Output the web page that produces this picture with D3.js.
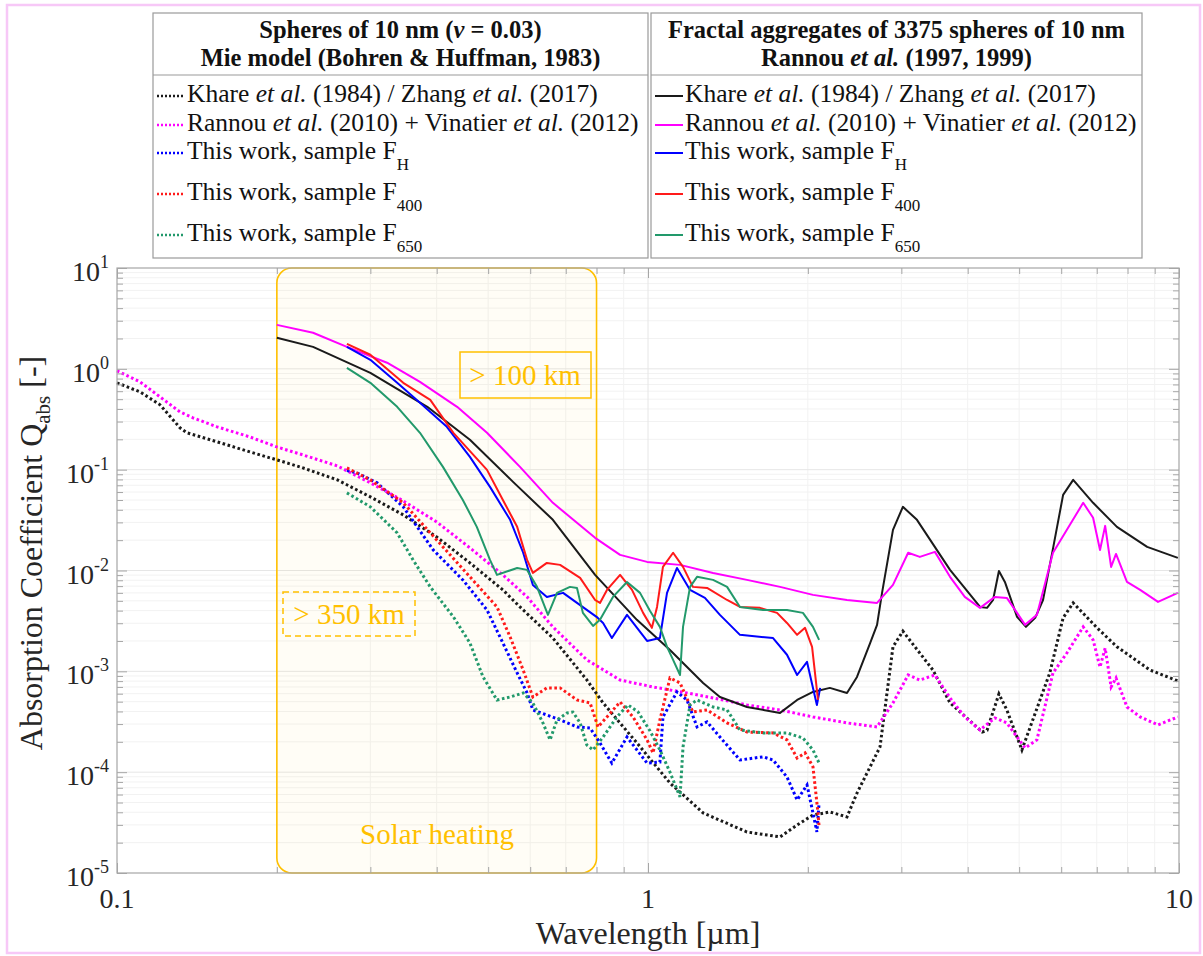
<!DOCTYPE html>
<html>
<head>
<meta charset="utf-8">
<script src="https://cdn.jsdelivr.net/npm/d3@7"></script>
<style>
  body { margin: 0; background: #fff; }
  svg { font-family: "Liberation Serif", "Times New Roman", serif; }
  .tick text { display: none; }
  .domain { display: none; }
</style>
</head>
<body>
<svg width="1203" height="956"></svg>
<script>
// wavelength [um], Q_abs  -- Mie spheres (dotted)
const khareMie = [[0.1,0.726],[0.1105,0.591],[0.1205,0.44],[0.1314,0.26],[0.1354,0.232],[0.1543,0.189],[0.178,0.150],[0.2,0.125],[0.221,0.1066],[0.26,0.0792],[0.3,0.0537],[0.346,0.0356],[0.4,0.0215],[0.462,0.0119],[0.533,0.00642],[0.574,0.00435],[0.662,0.00214],[0.767,0.000822],[0.823,0.000486],[0.953,0.000195],[1.1,7.8e-5],[1.27,3.94e-5],[1.536,2.55e-5],[1.773,2.28e-5],[1.909,2.99e-5],[2.045,3.76e-5],[2.2,4.03e-5],[2.37,3.6e-5],[2.475,6.2e-5],[2.62,1.13e-4],[2.735,1.78e-4],[2.893,1.75e-3],[3.02,2.5e-3],[3.44,1.03e-3],[3.705,4.86e-4],[4.26,2.5e-4],[4.35,2.6e-4],[4.58,5.97e-4],[4.74,4.14e-4],[5.06,1.66e-4],[5.71,9.64e-4],[6.05,3.39e-3],[6.32,4.77e-3],[7.01,2.7e-3],[7.64,1.75e-3],[8.82,1.03e-3],[9.95,8.03e-4]]
const rannouMie = [[0.1,0.955],[0.1105,0.743],[0.1205,0.527],[0.1314,0.374],[0.139,0.327],[0.1543,0.266],[0.178,0.211],[0.2,0.168],[0.224,0.140],[0.26,0.109],[0.3,0.074],[0.346,0.049],[0.4,0.0303],[0.462,0.01676],[0.533,0.00904],[0.592,0.00547],[0.662,0.00276],[0.767,0.0013],[0.886,8.2e-4],[1.022,7.0e-4],[1.184,6.1e-4],[1.326,5.45e-4],[1.536,4.64e-4],[1.773,4.14e-4],[2.045,3.53e-4],[2.37,3.08e-4],[2.70,2.81e-4],[2.893,4.86e-4],[3.09,9.2e-4],[3.25,8.2e-4],[3.47,9.2e-4],[3.705,5.45e-4],[3.95,3.53e-4],[4.22,2.62e-4],[4.50,3.45e-4],[4.74,3.08e-4],[4.955,2.23e-4],[5.13,1.74e-4],[5.40,2.09e-4],[5.79,9.64e-4],[6.15,1.52e-3],[6.60,2.76e-3],[6.89,2.05e-3],[7.10,1.1e-3],[7.26,1.7e-3],[7.45,7.0e-4],[7.61,8.6e-4],[7.98,4.43e-4],[8.45,3.53e-4],[9.13,2.94e-4],[9.95,3.53e-4]]
const fhMie = [[0.271,0.098],[0.283,0.0929],[0.309,0.074],[0.346,0.0428],[0.394,0.016],[0.448,0.00807],[0.4975,0.00406],[0.533,0.00191],[0.567,9.64e-4],[0.592,6.1e-4],[0.607,4.14e-4],[0.645,3.69e-4],[0.683,3.3e-4],[0.735,2.81e-4],[0.778,2.74e-4],[0.812,1.95e-4],[0.855,1.23e-4],[0.913,2.23e-4],[0.996,1.23e-4],[1.053,1.26e-4],[1.067,3.53e-4],[1.134,6.25e-4],[1.184,5.2e-4],[1.237,2.81e-4],[1.292,3.15e-4],[1.366,2.23e-4],[1.49,1.32e-4],[1.647,1.42e-4],[1.72,1.32e-4],[1.827,8.95e-5],[1.909,5.3e-5],[1.993,7.46e-5],[2.045,3.94e-5],[2.08,2.55e-5],[2.10,4.94e-5]]
const f400Mie = [[0.271,0.104],[0.3,0.0792],[0.346,0.0469],[0.4,0.0201],[0.462,0.00865],[0.5195,0.00435],[0.55,0.00219],[0.582,0.00103],[0.607,5.57e-4],[0.645,6.85e-4],[0.683,6.85e-4],[0.735,5.2e-4],[0.778,4.86e-4],[0.805,2.81e-4],[0.837,3.53e-4],[0.886,4.97e-4],[0.937,3.53e-4],[0.996,2.09e-4],[1.022,1.55e-4],[1.053,3.3e-4],[1.1,8.6e-4],[1.149,7.67e-4],[1.215,3.95e-4],[1.292,4.14e-4],[1.409,3.08e-4],[1.536,2.5e-4],[1.72,2.45e-4],[1.827,2.09e-4],[1.909,1.38e-4],[1.976,1.55e-4],[2.045,1.13e-4],[2.09,3.94e-5],[2.10,2.86e-5]]
const f650Mie = [[0.271,0.0589],[0.3,0.0428],[0.337,0.0236],[0.361,0.01274],[0.389,0.00688],[0.43,0.00347],[0.462,0.00191],[0.489,8.8e-4],[0.5195,5.2e-4],[0.55,5.57e-4],[0.582,6.1e-4],[0.607,4.86e-4],[0.634,3.08e-4],[0.654,2.09e-4],[0.674,3.3e-4],[0.704,3.87e-4],[0.722,3.95e-4],[0.745,3.08e-4],[0.767,1.86e-4],[0.788,1.66e-4],[0.823,2.23e-4],[0.874,3.53e-4],[0.917,4.64e-4],[0.958,3.95e-4],[1.009,2.56e-4],[1.053,1.66e-4],[1.1,1.0e-4],[1.149,5.68e-5],[1.164,1.78e-4],[1.2,4.64e-4],[1.237,5.2e-4],[1.326,4.43e-4],[1.409,4.14e-4],[1.49,2.62e-4],[1.647,2.45e-4],[1.827,2.45e-4],[1.958,2.18e-4],[2.045,1.66e-4],[2.10,1.23e-4]]

// fractal aggregates (solid)
const khareFrac = [[0.2,2.03],[0.234,1.65],[0.3,0.913],[0.384,0.42],[0.462,0.198],[0.557,0.0757],[0.662,0.0318],[0.795,0.00904],[0.953,0.00324],[1.1,0.00163],[1.27,7.67e-4],[1.366,5.57e-4],[1.536,4.43e-4],[1.773,3.87e-4],[1.909,5.2e-4],[2.045,6.25e-4],[2.2,6.85e-4],[2.37,6.1e-4],[2.475,8.8e-4],[2.62,1.9e-3],[2.70,2.89e-3],[2.759,6.0e-3],[2.893,0.0253],[3.02,0.0428],[3.21,0.0318],[3.705,0.01014],[4.22,4.35e-3],[4.35,4.26e-3],[4.465,5.1e-3],[4.58,9.9e-3],[4.70,7.7e-3],[4.955,3.47e-3],[5.15,2.76e-3],[5.36,3.39e-3],[5.545,5.1e-3],[5.77,0.01496],[6.05,0.0562],[6.32,0.0792],[6.89,0.0469],[7.64,0.0271],[8.71,0.01714],[9.95,0.01333]]
const rannouFrac = [[0.2,2.73],[0.234,2.28],[0.271,1.65],[0.3225,1.15],[0.372,0.743],[0.437,0.42],[0.4975,0.232],[0.574,0.1066],[0.662,0.0469],[0.795,0.0211],[0.886,0.01428],[0.996,0.01217],[1.149,0.01137],[1.326,0.00946],[1.536,0.00807],[1.773,0.00688],[2.045,0.00573],[2.37,0.0051],[2.70,0.00477],[2.893,0.0072],[3.09,0.015],[3.25,0.01365],[3.47,0.0153],[3.705,0.00865],[3.95,0.00547],[4.22,0.00426],[4.50,0.00547],[4.74,0.00535],[4.955,0.0038],[5.13,0.00289],[5.40,0.00363],[5.79,0.015],[6.15,0.0253],[6.60,0.0469],[6.89,0.0333],[7.10,0.016],[7.26,0.0277],[7.45,0.01086],[7.61,0.0146],[7.98,0.0077],[8.45,0.00642],[9.13,0.00488],[9.95,0.006]]
const fhFrac = [[0.271,1.65],[0.3,1.23],[0.337,0.726],[0.372,0.46],[0.418,0.266],[0.462,0.134],[0.504,0.0675],[0.55,0.0318],[0.582,0.015],[0.607,0.0072],[0.645,0.00547],[0.692,0.006],[0.735,0.00477],[0.80,0.00347],[0.823,0.00302],[0.855,0.00214],[0.913,0.00363],[0.996,0.002],[1.053,0.00214],[1.086,0.006],[1.134,0.0106],[1.2,0.00642],[1.28,0.00535],[1.366,0.00363],[1.49,0.0023],[1.72,0.00214],[1.827,0.00146],[1.909,9.2e-4],[1.993,1.24e-3],[2.08,4.64e-4],[2.11,6.85e-4]]
const f400Frac = [[0.271,1.77],[0.3,1.38],[0.346,0.726],[0.389,0.493],[0.43,0.232],[0.4975,0.0995],[0.533,0.0501],[0.567,0.0271],[0.592,0.01274],[0.607,0.00946],[0.645,0.01189],[0.683,0.01137],[0.745,0.00845],[0.795,0.0051],[0.812,0.00477],[0.837,0.00642],[0.886,0.00904],[0.933,0.00642],[0.979,0.0038],[1.017,0.0027],[1.04,0.00435],[1.067,0.01086],[1.115,0.015],[1.164,0.01086],[1.215,0.00688],[1.292,0.00672],[1.409,0.0051],[1.49,0.00435],[1.625,0.00426],[1.75,0.0038],[1.827,0.00302],[1.909,0.0023],[1.976,0.0027],[2.037,0.00175],[2.09,5.2e-4]]
const f650Frac = [[0.271,1.02],[0.3,0.726],[0.337,0.42],[0.372,0.232],[0.411,0.1066],[0.448,0.0501],[0.476,0.0271],[0.504,0.01274],[0.5195,0.00904],[0.567,0.0106],[0.592,0.01014],[0.618,0.00688],[0.648,0.00363],[0.674,0.006],[0.713,0.00688],[0.735,0.00672],[0.754,0.0038],[0.788,0.00282],[0.812,0.00324],[0.859,0.00547],[0.913,0.0077],[0.966,0.006],[1.009,0.00397],[1.053,0.00276],[1.086,0.00175],[1.115,0.0013],[1.149,9.2e-4],[1.164,0.00276],[1.2,0.00688],[1.237,0.00865],[1.326,0.00807],[1.409,0.00688],[1.49,0.00435],[1.647,0.00406],[1.827,0.00406],[1.958,0.0038],[2.045,0.00276],[2.10,0.00205]]

const xTickValues = [0.1, 1, 10]
const xTickLabels = ["0.1", "1", "10"]
const yTickValues = [1e-5, 1e-4, 1e-3, 1e-2, 1e-1, 1, 10]
const yTickExps = ["-5", "-4", "-3", "-2", "-1", "0", "1"]

const seriesColors = ["#1a1a1a", "#ff00ff", "#0000ff", "#ff1a1a", "#22996b"]
const solarBand = [0.2, 0.8]

const svg = d3.select("svg")
const pLeft = 117, pRight = 1179, pTop = 268, pBottom = 873

const x = d3.scaleLog().domain([0.1, 10]).range([pLeft, pRight])
const y = d3.scaleLog().domain([1e-5, 10]).range([pBottom, pTop])

// pink outer frame
svg.append("rect")
    .attr("x", 7).attr("y", 5)
    .attr("width", 1193).attr("height", 948)
    .attr("fill", "#fff")
    .attr("stroke", "#f7c8f7")
    .attr("stroke-width", 2.5)

// minor / major values
const xMinor = [], yMinor = []
;[0.1, 1].forEach(d => { for (let k = 2; k <= 9; k++) xMinor.push(k * d) })
for (let e = -5; e <= 0; e++) for (let k = 2; k <= 9; k++) yMinor.push(k * Math.pow(10, e))

const grid = svg.append("g")
grid.selectAll(".gx").data(xMinor).enter().append("line")
    .attr("x1", d => x(d)).attr("x2", d => x(d))
    .attr("y1", pTop).attr("y2", pBottom)
    .attr("stroke", "#f2f2f2")
grid.selectAll(".gy").data(yMinor).enter().append("line")
    .attr("x1", pLeft).attr("x2", pRight)
    .attr("y1", d => y(d)).attr("y2", d => y(d))
    .attr("stroke", "#f2f2f2")
grid.selectAll(".gxm").data([1]).enter().append("line")
    .attr("x1", d => x(d)).attr("x2", d => x(d))
    .attr("y1", pTop).attr("y2", pBottom)
    .attr("stroke", "#e6e6e6")
grid.selectAll(".gym").data(yTickValues.slice(1, -1)).enter().append("line")
    .attr("x1", pLeft).attr("x2", pRight)
    .attr("y1", d => y(d)).attr("y2", d => y(d))
    .attr("stroke", "#e6e6e6")

// solar heating region
svg.append("rect")
    .attr("x", x(solarBand[0]))
    .attr("y", pTop)
    .attr("width", x(solarBand[1]) - x(solarBand[0]))
    .attr("height", pBottom - pTop)
    .attr("rx", 15)
    .attr("fill", "#ffc000")
    .attr("fill-opacity", 0.035)
    .attr("stroke", "#ffc000")
    .attr("stroke-width", 1.6)

svg.append("rect")
    .attr("x", 460).attr("y", 352)
    .attr("width", 131).attr("height", 46)
    .attr("fill", "none")
    .attr("stroke", "#ffc000")
    .attr("stroke-width", 1.5)
svg.append("text")
    .attr("x", 525).attr("y", 385)
    .attr("text-anchor", "middle")
    .attr("font-size", 29)
    .attr("fill", "#ffc000")
    .text("> 100 km")

svg.append("rect")
    .attr("x", 283).attr("y", 592)
    .attr("width", 132).attr("height", 44)
    .attr("fill", "none")
    .attr("stroke", "#ffc000")
    .attr("stroke-width", 1.5)
    .attr("stroke-dasharray", "6,4")
svg.append("text")
    .attr("x", 349).attr("y", 624)
    .attr("text-anchor", "middle")
    .attr("font-size", 29)
    .attr("fill", "#ffc000")
    .text("> 350 km")

svg.append("text")
    .attr("x", 437).attr("y", 844)
    .attr("text-anchor", "middle")
    .attr("font-size", 29)
    .attr("fill", "#ffc000")
    .text("Solar heating")

// curves
const line = d3.line()
    .x(d => x(d[0]))
    .y(d => y(d[1]))

const mieSeries = [khareMie, rannouMie, fhMie, f400Mie, f650Mie]
const fracSeries = [khareFrac, rannouFrac, fhFrac, f400Frac, f650Frac]

svg.append("g").selectAll("path")
    .data(mieSeries)
    .enter()
    .append("path")
    .attr("d", line)
    .attr("fill", "none")
    .attr("stroke", (d, i) => seriesColors[i])
    .attr("stroke-width", 3)
    .attr("stroke-dasharray", "2.6,2.6")

svg.append("g").selectAll("path")
    .data(fracSeries)
    .enter()
    .append("path")
    .attr("d", line)
    .attr("fill", "none")
    .attr("stroke", (d, i) => seriesColors[i])
    .attr("stroke-width", 2)
    .attr("stroke-linejoin", "round")

// axes box and inward ticks
svg.append("rect")
    .attr("x", pLeft).attr("y", pTop)
    .attr("width", pRight - pLeft).attr("height", pBottom - pTop)
    .attr("fill", "none")
    .attr("stroke", "#a6a6a6")
    .attr("stroke-width", 1.2)

function ticks(axis, vals, len, tx, ty) {
    svg.append("g")
        .attr("transform", "translate(" + tx + "," + ty + ")")
        .call(axis.tickValues(vals).tickSize(-len).tickFormat(""))
        .selectAll("line").attr("stroke", "#a6a6a6")
}
ticks(d3.axisBottom(x), xMinor, 6, 0, pBottom)
ticks(d3.axisBottom(x), xTickValues, 10, 0, pBottom)
ticks(d3.axisTop(x), xMinor, 6, 0, pTop)
ticks(d3.axisTop(x), xTickValues, 10, 0, pTop)
ticks(d3.axisLeft(y), yMinor, 6, pLeft, 0)
ticks(d3.axisLeft(y), yTickValues, 10, pLeft, 0)
ticks(d3.axisRight(y), yMinor, 6, pRight, 0)
ticks(d3.axisRight(y), yTickValues, 10, pRight, 0)

// tick labels
svg.append("g").selectAll("text")
    .data(xTickValues)
    .enter()
    .append("text")
    .attr("x", d => x(d))
    .attr("y", 908)
    .attr("text-anchor", "middle")
    .attr("font-size", 28)
    .attr("fill", "#262626")
    .text((d, i) => xTickLabels[i])

const yLabels = svg.append("g").selectAll("text")
    .data(yTickValues)
    .enter()
    .append("text")
    .attr("x", 109)
    .attr("y", d => y(d) + 13)
    .attr("text-anchor", "end")
    .attr("font-size", 28)
    .attr("fill", "#262626")
yLabels.append("tspan").text("10")
yLabels.append("tspan")
    .attr("dy", -13)
    .attr("font-size", 18)
    .text((d, i) => yTickExps[i])

// axis titles
svg.append("text")
    .attr("x", (pLeft + pRight) / 2)
    .attr("y", 944)
    .attr("text-anchor", "middle")
    .attr("font-size", 32)
    .attr("fill", "#262626")
    .text("Wavelength [\u00b5m]")

const yTitle = svg.append("text")
    .attr("transform", "translate(42," + 553 + ") rotate(-90)")
    .attr("text-anchor", "middle")
    .attr("font-size", 32)
    .attr("fill", "#262626")
yTitle.append("tspan").text("Absorption Coefficient Q")
yTitle.append("tspan").attr("font-size", 21).attr("dy", 8).text("abs")
yTitle.append("tspan").attr("dy", -8).text(" [-]")

// legends
function rich(sel, parts) {
    parts.forEach(p => {
        const t = sel.append("tspan").text(p.t)
        if (p.i) t.attr("font-style", "italic")
        if (p.sub) t.attr("font-size", 17).attr("dy", 11)
    })
}

const rowLabels = [
    [{t: "Khare "}, {t: "et al.", i: 1}, {t: " (1984) / Zhang "}, {t: "et al.", i: 1}, {t: " (2017)"}],
    [{t: "Rannou "}, {t: "et al.", i: 1}, {t: " (2010) + Vinatier "}, {t: "et al.", i: 1}, {t: " (2012)"}],
    [{t: "This work, sample F"}, {t: "H", sub: 1}],
    [{t: "This work, sample F"}, {t: "400", sub: 1}],
    [{t: "This work, sample F"}, {t: "650", sub: 1}]
]
const rowY = [102, 131, 159, 200, 241]

function legend(x0, x1, head1, head2, dotted) {
    const g = svg.append("g")
    g.append("rect")
        .attr("x", x0).attr("y", 13)
        .attr("width", x1 - x0).attr("height", 245)
        .attr("fill", "#fff")
        .attr("stroke", "#9a9a9a")
        .attr("stroke-width", 1.2)
    g.append("line")
        .attr("x1", x0).attr("x2", x1)
        .attr("y1", 75).attr("y2", 75)
        .attr("stroke", "#9a9a9a")
        .attr("stroke-width", 1.2)
    const cx = (x0 + x1) / 2
    rich(g.append("text").attr("x", cx).attr("y", 38).attr("text-anchor", "middle")
        .attr("font-size", 24.5).attr("font-weight", "bold").attr("fill", "#111"), head1)
    rich(g.append("text").attr("x", cx).attr("y", 66).attr("text-anchor", "middle")
        .attr("font-size", 24.5).attr("font-weight", "bold").attr("fill", "#111"), head2)

    rowLabels.forEach((parts, i) => {
        g.append("line")
            .attr("x1", x0 + 4).attr("x2", x0 + 32)
            .attr("y1", rowY[i] - 6).attr("y2", rowY[i] - 6)
            .attr("stroke", seriesColors[i])
            .attr("stroke-width", dotted ? 2.5 : 2)
            .attr("stroke-dasharray", dotted ? "2,2" : null)
        rich(g.append("text").attr("x", x0 + 34).attr("y", rowY[i])
            .attr("font-size", 25.5).attr("fill", "#111"), parts)
    })
}

legend(153, 648,
    [{t: "Spheres of 10 nm ("}, {t: "\u03bd", i: 1}, {t: " = 0.03)"}],
    [{t: "Mie model (Bohren & Huffman, 1983)"}],
    true)
legend(651, 1142,
    [{t: "Fractal aggregates of 3375 spheres of 10 nm"}],
    [{t: "Rannou "}, {t: "et al.", i: 1}, {t: " (1997, 1999)"}],
    false)
</script>
</body>
</html>
